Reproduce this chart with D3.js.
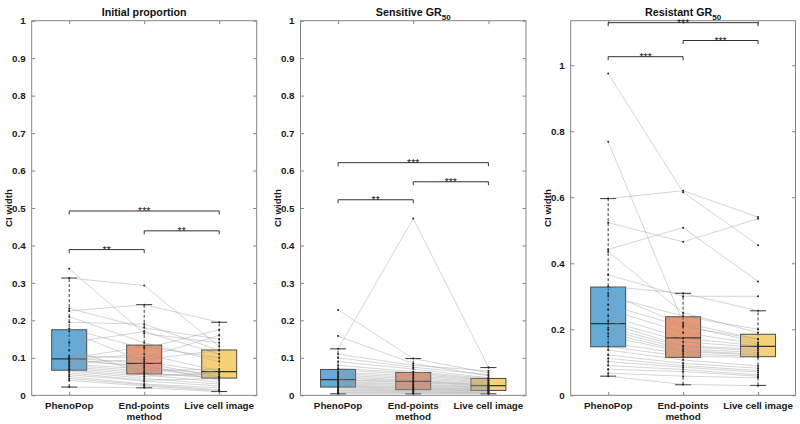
<!DOCTYPE html>
<html>
<head>
<meta charset="utf-8">
<script src="https://cdn.jsdelivr.net/npm/d3@7/dist/d3.min.js"></script>
<style>
  body { margin: 0; background: #fff; }
  svg { display: block; font-family: "Liberation Sans", Arial, sans-serif; }
</style>
</head>
<body>
<svg id="chart" width="800" height="424"></svg>
<script>
// ---------- DATA ----------
const categories = [["PhenoPop"], ["End-points", "method"], ["Live cell image"]];
const yLabel = "CI width";

// Panel 1: Initial proportion (paired samples)
const initPheno = [0.338,0.313,0.232,0.225,0.21,0.195,0.178,0.17,0.14,0.121,0.105,0.10,0.098,0.097,0.095,0.09,0.088,0.084,0.08,0.076,0.072,0.068,0.065,0.06,0.055,0.05,0.045,0.04,0.022];
const initEnd   = [0.165,0.293,0.18,0.242,0.14,0.19,0.125,0.09,0.17,0.06,0.10,0.085,0.13,0.075,0.11,0.08,0.095,0.07,0.065,0.06,0.055,0.05,0.045,0.04,0.038,0.03,0.028,0.025,0.02];
const initLive  = [0.14,0.13,0.15,0.195,0.09,0.12,0.175,0.06,0.11,0.045,0.16,0.05,0.10,0.055,0.065,0.04,0.12,0.05,0.07,0.048,0.035,0.06,0.03,0.045,0.025,0.02,0.015,0.012,0.01];
// box stats per category: [whiskerLow, q1, median, q3, whiskerHigh]
const initBox = [[0.022,0.067,0.097,0.175,0.313],[0.02,0.057,0.085,0.134,0.242],[0.01,0.046,0.063,0.121,0.195]];
const initSig = [[0,1,0.389,"**"],[1,2,0.439,"**"],[0,2,0.492,"***"]];

// Panel 2: Sensitive GR50
const sensPheno = [0.228,0.158,0.124,0.11,0.10,0.09,0.08,0.072,0.068,0.062,0.058,0.054,0.05,0.046,0.042,0.04,0.037,0.034,0.031,0.028,0.025,0.023,0.02,0.017,0.014,0.012,0.009,0.007,0.004];
const sensEnd   = [0.098,0.085,0.472,0.08,0.075,0.07,0.063,0.06,0.056,0.052,0.048,0.044,0.04,0.038,0.036,0.034,0.03,0.028,0.025,0.022,0.02,0.018,0.016,0.014,0.012,0.01,0.008,0.006,0.004];
const sensLive  = [0.06,0.052,0.075,0.065,0.055,0.047,0.045,0.042,0.04,0.038,0.035,0.033,0.03,0.028,0.027,0.025,0.023,0.021,0.02,0.018,0.016,0.015,0.013,0.012,0.01,0.008,0.007,0.005,0.004];
const sensBox = [[0.004,0.022,0.042,0.069,0.124],[0.004,0.015,0.037,0.061,0.098],[0.004,0.013,0.026,0.045,0.074]];
const sensSig = [[0,1,0.522,"**"],[1,2,0.570,"***"],[0,2,0.621,"***"]];

// Panel 3: Resistant GR50
const resPheno = [0.975,0.768,0.596,0.523,0.442,0.435,0.365,0.33,0.309,0.301,0.274,0.26,0.24,0.225,0.218,0.205,0.198,0.188,0.178,0.16,0.147,0.137,0.122,0.112,0.102,0.09,0.079,0.067,0.058];
const resEnd   = [0.615,0.22,0.62,0.465,0.508,0.25,0.30,0.309,0.213,0.24,0.208,0.19,0.173,0.162,0.15,0.147,0.14,0.135,0.132,0.125,0.118,0.107,0.097,0.09,0.085,0.078,0.072,0.058,0.033];
const resLive  = [0.455,0.17,0.54,0.535,0.345,0.19,0.30,0.256,0.16,0.20,0.17,0.155,0.15,0.145,0.14,0.135,0.13,0.125,0.122,0.118,0.115,0.089,0.082,0.075,0.07,0.062,0.058,0.053,0.029];
const resBox = [[0.058,0.147,0.217,0.328,0.596],[0.032,0.115,0.174,0.238,0.309],[0.030,0.117,0.148,0.185,0.256]];
const resSig = [[0,1,1.026,"***"],[1,2,1.075,"***"],[0,2,1.129,"***"]];

const ticks01 = [0,0.1,0.2,0.3,0.4,0.5,0.6,0.7,0.8,0.9,1];
const ticksRes = [0,0.2,0.4,0.6,0.8,1];

const panels = [
  {title: "Initial proportion", sub: null, series: [initPheno, initEnd, initLive], box: initBox, sig: initSig, ymax: 1, ticks: ticks01},
  {title: "Sensitive GR", sub: "50", series: [sensPheno, sensEnd, sensLive], box: sensBox, sig: sensSig, ymax: 1, ticks: ticks01},
  {title: "Resistant GR", sub: "50", series: [resPheno, resEnd, resLive], box: resBox, sig: resSig, ymax: 1.135, ticks: ticksRes}
];

// ---------- LAYOUT ----------
const layout = [[31.7, 256.7], [300.5, 526], [570.7, 795.5]];
const plotTop = 20.7, plotBottom = 395.3;
const fills = ["#0072BD", "#D95319", "#EDB120"];
const axisColor = "#858585";

const svg = d3.select("#chart");

panels.forEach((p, pi) => {
  const [L, R] = layout[pi];
  const x = d3.scaleLinear().domain([0.5, 3.5]).range([L, R]);
  const y = d3.scaleLinear().domain([0, p.ymax]).range([plotBottom, plotTop]);
  const g = svg.append("g");
  const fmt = d => String(+d.toFixed(2));

  // axes (inward ticks, all four sides)
  const axL = g.append("g").attr("transform", `translate(${L},0)`)
    .call(d3.axisLeft(y).tickValues(p.ticks).tickSizeInner(-3.5).tickSizeOuter(0).tickPadding(6).tickFormat(fmt));
  const axR = g.append("g").attr("transform", `translate(${R},0)`)
    .call(d3.axisRight(y).tickValues(p.ticks).tickSizeInner(-3.5).tickSizeOuter(0).tickFormat(""));
  const axB = g.append("g").attr("transform", `translate(0,${plotBottom})`)
    .call(d3.axisBottom(x).tickValues([1,2,3]).tickSizeInner(-3.5).tickSizeOuter(0).tickFormat(""));
  const axT = g.append("g").attr("transform", `translate(0,${plotTop})`)
    .call(d3.axisTop(x).tickValues([1,2,3]).tickSizeInner(-3.5).tickSizeOuter(0).tickFormat(""));
  [axL, axR, axB, axT].forEach(a => {
    a.select(".domain").remove();
    a.selectAll(".tick line").attr("stroke", axisColor);
  });
  axL.selectAll(".tick text").attr("font-size", 9.8).attr("font-weight", "bold").attr("fill", "#1a1a1a")
    .attr("font-family", "Liberation Sans, Arial, sans-serif");

  g.append("rect").attr("x", L).attr("y", plotTop).attr("width", R - L).attr("height", plotBottom - plotTop)
    .attr("fill", "none").attr("stroke", axisColor).attr("stroke-width", 1);

  // category labels
  categories.forEach((lines, i) => {
    const t = g.append("text").attr("x", x(i + 1)).attr("y", 409).attr("text-anchor", "middle")
      .attr("font-size", 9.8).attr("font-weight", "bold").attr("fill", "#1a1a1a");
    lines.forEach((ln, k) => t.append("tspan").attr("x", x(i + 1)).attr("dy", k === 0 ? 0 : 11.2).text(ln));
  });

  // title
  const tt = g.append("text").attr("x", (L + R) / 2).attr("y", 16).attr("text-anchor", "middle")
    .attr("font-size", 10.7).attr("font-weight", "bold").attr("fill", "#111").text(p.title);
  if (p.sub) tt.append("tspan").attr("font-size", 8).attr("dy", 3.5).text(p.sub);

  // y label
  g.append("text").attr("transform", `translate(${L - 20},${(plotTop + plotBottom) / 2}) rotate(-90)`)
    .attr("text-anchor", "middle").attr("font-size", 9.8).attr("font-weight", "bold").attr("fill", "#1a1a1a").text(yLabel);

  const bw = 35, cap = 16;
  // whiskers (dashed)
  p.box.forEach((b, i) => {
    const cx = x(i + 1);
    g.append("line").attr("x1", cx).attr("x2", cx).attr("y1", y(b[0])).attr("y2", y(b[4]))
      .attr("stroke", "#222").attr("stroke-width", 0.9).attr("stroke-dasharray", "3,2");
    [b[0], b[4]].forEach(v => g.append("line").attr("x1", cx - cap / 2).attr("x2", cx + cap / 2)
      .attr("y1", y(v)).attr("y2", y(v)).attr("stroke", "#333").attr("stroke-width", 1));
  });
  // boxes
  p.box.forEach((b, i) => {
    const cx = x(i + 1);
    g.append("rect").attr("x", cx - bw / 2).attr("y", y(b[3])).attr("width", bw).attr("height", y(b[1]) - y(b[3]))
      .attr("fill", fills[i]).attr("fill-opacity", 0.6).attr("stroke", "#4a4a4a").attr("stroke-width", 1);
    g.append("line").attr("x1", cx - bw / 2).attr("x2", cx + bw / 2).attr("y1", y(b[2])).attr("y2", y(b[2]))
      .attr("stroke", "#333").attr("stroke-width", 1.2);
  });

  // paired lines
  const n = p.series[0].length;
  const lineGen = d3.line().x(d => x(d[0])).y(d => y(d[1]));
  for (let k = 0; k < n; k++) {
    const pts = p.series.map((s, i) => [i + 1, s[k]]);
    g.append("path").attr("d", lineGen(pts)).attr("fill", "none")
      .attr("stroke", "#9a9a9a").attr("stroke-opacity", 0.6).attr("stroke-width", 0.7);
  }
  // points
  p.series.forEach((s, i) => {
    g.selectAll(null).data(s).enter().append("circle")
      .attr("cx", x(i + 1)).attr("cy", d => y(d)).attr("r", 1).attr("fill", "#222");
  });

  // significance brackets
  p.sig.forEach(([a, b, v, lab]) => {
    const x1 = x(a + 1), x2 = x(b + 1), yy = y(v);
    g.append("path").attr("d", `M${x1},${yy + 3.5}V${yy}H${x2}V${yy + 3.5}`)
      .attr("fill", "none").attr("stroke", "#333").attr("stroke-width", 1);
    g.append("text").attr("x", (x1 + x2) / 2).attr("y", yy + 4.5).attr("text-anchor", "middle")
      .attr("font-size", 10.5).attr("fill", "#222").text(lab);
  });
});
</script>
</body>
</html>
